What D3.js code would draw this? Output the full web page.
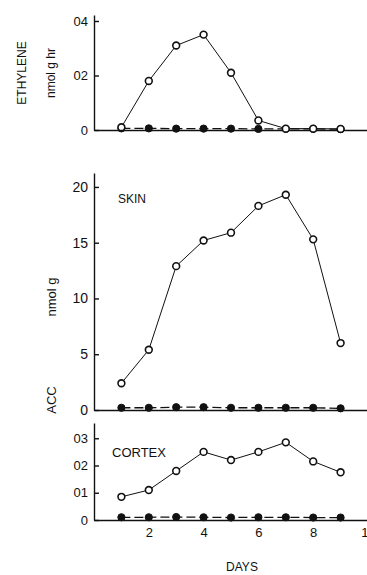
<!DOCTYPE html>
<html lang="en">
<head>
  <meta charset="utf-8">
  <title>Ethylene and ACC</title>
  <script src="https://cdn.jsdelivr.net/npm/d3@7"></script>
  <style>
    body { margin: 0; background: #fff; }
    text { font-family: "Liberation Sans", Arial, sans-serif; fill: #111; }
    .axis path, .axis line { stroke: #111; stroke-width: 1.4; }
    .axis text { font-size: 13px; }
    .open-line { fill: none; stroke: #111; stroke-width: 1; }
    .closed-line { fill: none; stroke: #111; stroke-width: 1.3; stroke-dasharray: 9 4; }
    .open-dot { fill: #fff; stroke: #111; stroke-width: 1.6; }
    .closed-dot { fill: #111; stroke: #111; }
    .label { font-size: 12px; }
  </style>
</head>
<body>
  <div id="chart"></div>
  <script>
    // data
    var days = [1, 2, 3, 4, 5, 6, 7, 8, 9];
    var ethyleneOpen = [0.01, 0.18, 0.31, 0.35, 0.21, 0.035, 0.005, 0.005, 0.004];
    var ethyleneClosed = [0.006, 0.006, 0.005, 0.005, 0.005, 0.004, 0.004, 0.004, 0.003];
    var skinOpen = [2.4, 5.4, 12.9, 15.2, 15.9, 18.3, 19.3, 15.3, 6.0];
    var skinClosed = [0.2, 0.2, 0.25, 0.25, 0.2, 0.2, 0.2, 0.2, 0.15];
    var cortexOpen = [0.085, 0.11, 0.18, 0.25, 0.22, 0.25, 0.285, 0.215, 0.175];
    var cortexClosed = [0.01, 0.01, 0.011, 0.01, 0.009, 0.01, 0.01, 0.009, 0.009];

    var xTicks = [2, 4, 6, 8, 10];
    var ethyleneTicks = [0, 0.2, 0.4];
    var ethyleneTickLabels = ["0", "02", "04"];
    var skinTicks = [0, 5, 10, 15, 20];
    var skinTickLabels = ["0", "5", "10", "15", "20"];
    var cortexTicks = [0, 0.1, 0.2, 0.3];
    var cortexTickLabels = ["0", "01", "02", "03"];

    var W = 367, H = 575;
    var svg = d3.select("#chart").append("svg")
      .attr("width", W)
      .attr("height", H);

    var x = d3.scaleLinear().domain([0, 10]).range([94, 368]);

    function panel(opts) {
      var y = d3.scaleLinear().domain(opts.domain).range(opts.range);

      // y axis with inward ticks
      var yAxis = d3.axisLeft(y)
        .tickValues(opts.ticks)
        .tickFormat(function (d, i) { return opts.labels[i]; })
        .tickSizeInner(-5)
        .tickSizeOuter(0)
        .tickPadding(6);
      svg.append("g")
        .attr("class", "axis")
        .attr("transform", "translate(" + x(0) + ",0)")
        .call(yAxis)
        .selectAll("text").style("font-size", opts.fontSize || "13px");

      // x axis
      var xAxis = d3.axisBottom(x)
        .tickValues(opts.showX ? xTicks : [])
        .tickFormat(d3.format("d"))
        .tickSize(0)
        .tickPadding(8);
      svg.append("g")
        .attr("class", "axis")
        .attr("transform", "translate(0," + y(0) + ")")
        .call(xAxis);

      var line = d3.line()
        .x(function (d, i) { return x(days[i]); })
        .y(function (d) { return y(d); });

      svg.append("path")
        .attr("class", "closed-line")
        .attr("d", line(opts.closed));
      svg.selectAll(null)
        .data(opts.closed)
        .enter().append("circle")
        .attr("class", "closed-dot")
        .attr("cx", function (d, i) { return x(days[i]); })
        .attr("cy", function (d) { return y(d); })
        .attr("r", 3.6);

      svg.append("path")
        .attr("class", "open-line")
        .attr("d", line(opts.open));
      svg.selectAll(null)
        .data(opts.open)
        .enter().append("circle")
        .attr("class", "open-dot")
        .attr("cx", function (d, i) { return x(days[i]); })
        .attr("cy", function (d) { return y(d); })
        .attr("r", 3.4);

      return y;
    }

    // ETHYLENE
    panel({
      domain: [0, 0.422], range: [130, 15],
      ticks: ethyleneTicks, labels: ethyleneTickLabels,
      open: ethyleneOpen, closed: ethyleneClosed, showX: false
    });

    // ACC skin
    panel({
      domain: [0, 21.25], range: [410, 173],
      ticks: skinTicks, labels: skinTickLabels,
      open: skinOpen, closed: skinClosed, showX: false, fontSize: "14px"
    });

    // ACC cortex
    panel({
      domain: [0, 0.356], range: [520, 423],
      ticks: cortexTicks, labels: cortexTickLabels,
      open: cortexOpen, closed: cortexClosed, showX: true
    });

    // labels
    function vlabel(text, cx, cy, size) {
      svg.append("text")
        .attr("class", "label")
        .attr("transform", "translate(" + cx + "," + cy + ") rotate(-90)")
        .attr("text-anchor", "middle")
        .attr("dy", "0.35em")
        .style("font-size", size)
        .text(text);
    }
    vlabel("ETHYLENE", 22, 73, "12px");
    vlabel("nmol g hr", 51, 73, "12px");
    vlabel("nmol g", 51, 297, "13px");
    vlabel("ACC", 51, 400, "13px");

    svg.append("text").attr("class", "label")
      .attr("x", 118).attr("y", 203).style("font-size", "12px").text("SKIN");
    svg.append("text").attr("class", "label")
      .attr("x", 112).attr("y", 457).style("font-size", "13px").text("CORTEX");
    svg.append("text").attr("class", "label")
      .attr("x", 242).attr("y", 571).attr("text-anchor", "middle")
      .style("font-size", "12px").text("DAYS");
  </script>
</body>
</html>
